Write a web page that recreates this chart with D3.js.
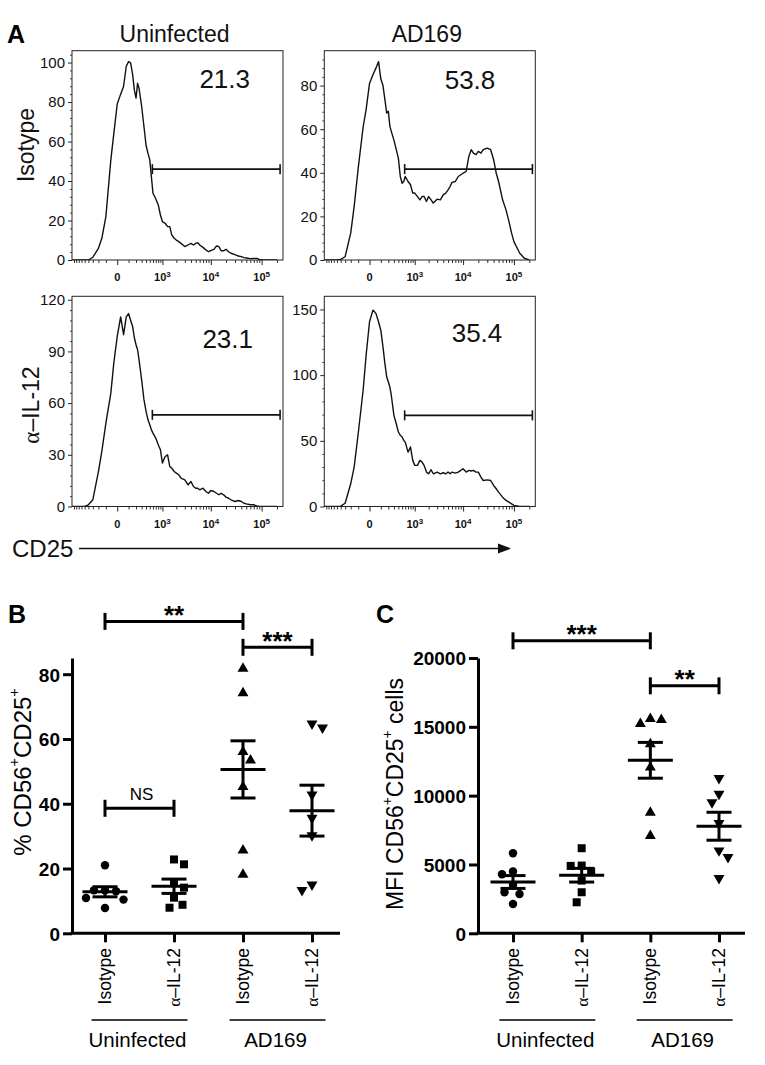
<!DOCTYPE html>
<html><head><meta charset="utf-8">
<script src="https://cdn.jsdelivr.net/npm/d3@7"></script>
<style>body{margin:0;background:#fff}svg{display:block}text{font-family:"Liberation Sans",Arial,Helvetica,sans-serif}</style>
</head><body><svg id="fig" width="765" height="1065"></svg>
<script>
// ================= DATA =================
// Panel A: CD25 fluorescence grid and histogram counts
const cd25Values = [-1000,-700,-500,-400,-300,-200,-150,-100,-50,-25,
  0,25,50,75,100,125,150,175,200,225,
  250,300,350,400,450,500,550,600,700,800,
  900,1000,1150,1300,1450,1600,1800,2000,2250,2500,
  3000,3500,4000,4500,5000,5500,6000,7000,8000,9000,
  10000,11500,13000,14500,16000,18000,20000,22500,25000,30000,
  35000,40000,45000,50000,60000,70000,80000,90000,100000,130000,
  160000,200000];
const countsIsoUninf = [0,0,0,0,1.4,5.9,11,22,50.7,64,
  79,84,88,98,100.5,99.7,94,86,82,89.5,
  87,78,67.6,58,54,50.7,42,33.8,31,28,
  22.8,19.4,18.6,16.9,16.9,12.7,11,10.1,9.3,8.4,
  6.8,7.6,8.4,7.6,8.4,8.8,7.6,6.4,5.1,4.2,
  4.7,5.4,7.1,6.8,4.7,4.7,5.4,4.2,3.4,2.7,
  2.0,1.7,1.2,1.0,0.7,0.8,0.8,0.3,0,0,
  0,0];
const countsIsoAD169 = [0,0,0,0.3,1.5,12.3,24.5,42,61,69,
  81,85,88,91,83,80,73.6,67.4,68.2,61.3,
  59,55,50.6,46.7,38.3,35.2,36,38.3,36,34.5,
  30.7,30.7,29.1,27.6,29.1,29.1,26.8,29.1,27.6,26.1,
  27.9,27.6,29.9,30.7,32.2,33.7,35.6,36,38.3,39.1,
  39.8,40.6,47.5,50.6,49,48.3,49.8,49,50.6,51.3,
  50.6,46,39.8,36,27.6,23,17.6,12.3,8.4,3.1,
  0.8,0];
const countsIl12Uninf = [0,0,0,1,3.9,20.3,32,48.4,65.8,83.2,
  98.7,110,99.7,110,112,108,104.5,97.8,93.9,91,
  85.2,73.6,62,55.2,50.3,47.4,44.5,42.6,39.7,35.8,
  32.9,25.2,29,30,23.2,22.3,20.3,19.4,18.4,16.5,
  15.5,12.6,14.5,11.6,10.6,10.6,9.7,10.6,8.7,7.7,
  9.3,8.7,7.7,6.8,7.7,6.8,5.4,4.8,3.9,2.9,
  3.5,2.9,1.9,1.5,1,1,0.4,0,0,0,
  0,0];
const countsIl12AD169 = [0,0,0,0.3,2.5,17.3,30,55.4,88.5,115,
  140.6,149.5,147,140.6,134,121.5,108.8,98.7,94.8,91,
  84.7,69.4,63,56.7,54.2,52.9,50.3,49,41.4,45.3,
  35.1,31.3,31.3,35.1,33.8,31.3,26.2,24.9,28,24.9,
  26.2,24.9,25.7,24.9,26.2,24.9,26.2,25.4,26.2,27.5,
  28.7,26.2,27.5,27,27.5,26.2,26.2,22.4,19.8,20.3,
  19.8,16,13.5,10.9,7.1,4.6,3.3,2,0.8,0,
  0,0];
const gatePercents = ["21.3","53.8","23.1","35.4"];
const gateBounds = [580, 230000];
const gateLevels = [46, 41.7, 53.2, 69.4];
const countMax = [106, 96, 122, 160];
const countTicks = [[0,20,40,60,80,100],[0,20,40,60,80],[0,30,60,90,120],[0,50,100,150]];
const cd25Domain = [-1000, 262144];
const cd25MajorTicks = [0, 1e3, 1e4, 1e5];
const cd25MajorLabels = [["0",""],["10","3"],["10","4"],["10","5"]];
const cd25MinorTicks = [-900,-800,-700,-600,-500,-400,-300,-200,-100,100,200,300,400,500,600,700,800,900,
  2000,3000,4000,5000,6000,7000,8000,9000,20000,30000,40000,50000,60000,70000,80000,90000,200000];
const colTitles = ["Uninfected","AD169"];
const rowTitles = ["Isotype","α–IL-12"];

// Panels B and C
const categories = ["Isotype","α–IL-12","Isotype","α–IL-12"];
const groups = ["Uninfected","AD169"];
const pctIsoUninf  = [21.0,13.3,10.9,13.0,13.3,10.4,7.8];
const pctIl12Uninf = [21.3,22.8,15.8,14.1,11.0,8.8,7.9];
const pctIsoAD169  = [81.7,74.2,56.0,53.4,45.2,25.6,18.1];
const pctIl12AD169 = [63.5,64.7,42.8,35.6,30.2,15.0,13.3];
const mfiIsoUninf  = [5818,4485,4291,3515,2982,2860,2133];
const mfiIl12Uninf = [6182,4897,4921,4485,3830,2982,2254];
const mfiIsoAD169  = [15588,15224,15515,13745,12048,8776,7079];
const mfiIl12AD169 = [11273,10133,9503,8000,6012,5527,4000];
const pctTicks = [0,20,40,60,80];
const mfiTicks = [0,5000,10000,15000,20000];
const pctSig = [{a:0,b:2,level:96.3,label:"**"},{a:2,b:3,level:88.3,label:"***"},{a:0,b:1,level:38.6,label:"NS"}];
const mfiSig = [{a:0,b:2,level:21250,label:"***"},{a:2,b:3,level:17980,label:"**"}];

// ================= DRAW =================
const svg = d3.select("#fig");
const ink = "#000";

// ---------- Panel A ----------
const histW = 211;
const histLefts = [72, 324.3];
const histRows = [{top:50.7,bottom:260},{top:296.3,bottom:506.5}];
const pctPos = [{dx:-33,dy:37.5},{dx:-40,dy:38.5},{dx:-30,dy:52},{dx:-33,dy:45.5}];
const histSeries = [countsIsoUninf, countsIsoAD169, countsIl12Uninf, countsIl12AD169];

histSeries.forEach((counts,i)=>{
  const col = i%2, row = Math.floor(i/2);
  const left = histLefts[col], top = histRows[row].top, bottom = histRows[row].bottom;
  const x = d3.scaleSymlog().constant(150).domain(cd25Domain).range([left, left+histW]);
  const y = d3.scaleLinear().domain([0,countMax[i]]).range([bottom, top]);
  const g = svg.append("g");
  const cid = "hclip"+i;
  svg.append("clipPath").attr("id",cid).append("rect")
    .attr("x",left).attr("y",top).attr("width",histW).attr("height",bottom-top);
  g.append("path").datum(d3.zip(cd25Values, counts))
    .attr("clip-path",`url(#${cid})`)
    .attr("fill","none").attr("stroke","#111").attr("stroke-width",1.4).attr("stroke-linejoin","round")
    .attr("d", d3.line().x(d=>x(d[0])).y(d=>y(d[1])));
  // y axis
  const step = countTicks[i][1]-countTicks[i][0];
  const minors = d3.range(0, countMax[i], step/5).filter(v=>Math.abs(v/step-Math.round(v/step))>1e-6);
  const ya = g.append("g").attr("transform",`translate(${left},0)`)
    .call(d3.axisLeft(y).tickValues(countTicks[i]).tickSize(4).tickPadding(3));
  ya.select(".domain").remove();
  ya.selectAll("text").attr("font-size",15).attr("fill","#111").style("font-family",'"Liberation Sans",Arial,sans-serif');
  ya.selectAll("line").attr("stroke","#222");
  const ym = g.append("g").attr("transform",`translate(${left},0)`)
    .call(d3.axisLeft(y).tickValues(minors).tickSize(2).tickFormat(""));
  ym.select(".domain").remove(); ym.selectAll("line").attr("stroke","#444");
  // x axis
  const xa = g.append("g").attr("transform",`translate(0,${bottom})`)
    .call(d3.axisBottom(x).tickValues(cd25MajorTicks).tickSize(5).tickFormat(""));
  xa.select(".domain").remove(); xa.selectAll("line").attr("stroke","#222");
  const xm = g.append("g").attr("transform",`translate(0,${bottom})`)
    .call(d3.axisBottom(x).tickValues(cd25MinorTicks).tickSize(3).tickFormat(""));
  xm.select(".domain").remove(); xm.selectAll("line").attr("stroke","#333");
  cd25MajorTicks.forEach((v,k)=>{
    const t = g.append("text").attr("x",x(v)).attr("y",bottom+21).attr("text-anchor","middle")
      .attr("font-size",11).attr("font-weight","bold").attr("fill","#111");
    t.append("tspan").text(cd25MajorLabels[k][0]);
    if(cd25MajorLabels[k][1]) t.append("tspan").attr("dy",-4).attr("font-size",8).text(cd25MajorLabels[k][1]);
  });
  // frame
  g.append("rect").attr("x",left).attr("y",top).attr("width",histW).attr("height",bottom-top)
    .attr("fill","none").attr("stroke","#222").attr("stroke-width",1);
  // gate
  const gy = y(gateLevels[i]), gx1 = x(gateBounds[0]), gx2 = x(gateBounds[1]);
  g.append("line").attr("x1",gx1).attr("x2",gx2).attr("y1",gy).attr("y2",gy).attr("stroke","#111").attr("stroke-width",1.8);
  [gx1,gx2].forEach(xx=>g.append("line").attr("x1",xx).attr("x2",xx).attr("y1",gy-5).attr("y2",gy+5).attr("stroke","#111").attr("stroke-width",1.6));
  g.append("text").attr("x",left+histW+pctPos[i].dx).attr("y",top+pctPos[i].dy).attr("text-anchor","end")
    .attr("font-size",26).attr("fill","#111").text(gatePercents[i]);
});
// column/row titles
colTitles.forEach((t,c)=>svg.append("text").attr("x",histLefts[c]+histW/2-3).attr("y",42).attr("text-anchor","middle")
  .attr("font-size",23).attr("fill","#111").text(t));
const rowCenters = [145, 405];
rowTitles.forEach((t,r)=>{
  const tx = svg.append("text").attr("transform",`translate(${r===0?34:39},${rowCenters[r]}) rotate(-90)`)
    .attr("text-anchor","middle").attr("font-size",23).attr("fill","#111");
  if(t.startsWith("α")){ tx.append("tspan").style("font-family",'"Liberation Serif",serif').text("α"); tx.append("tspan").text(t.slice(1)); }
  else tx.text(t);
});
svg.append("text").attr("x",7).attr("y",43).attr("font-size",25).attr("font-weight","bold").text("A");
// CD25 arrow
svg.append("text").attr("x",12).attr("y",557).attr("font-size",24).attr("fill","#111").text("CD25");
svg.append("line").attr("x1",79).attr("x2",500).attr("y1",548.5).attr("y2",548.5).attr("stroke","#111").attr("stroke-width",1.6);
svg.append("path").attr("d",d3.line()([[498,543.5],[511,548.5],[498,553.5]])+"Z").attr("fill","#111");

// ---------- Panels B & C ----------
function swarm(vals, yScale, D){
  const order = vals.map((v,i)=>i).sort((a,b)=>vals[b]-vals[a]);
  const placed = [], xs = new Array(vals.length);
  order.forEach((i,k)=>{
    const py = yScale(vals[i]); let best = null;
    for(let s=0; s<=40 && best===null; s+=0.5){
      const cands = s===0 ? [0] : (k%2 ? [s,-s] : [-s,s]);
      for(const c of cands){ if(placed.every(p=>Math.hypot(p.x-c,p.y-py)>=D)){best=c;break;} }
    }
    xs[i]=best; placed.push({x:best,y:py});
  });
  return xs;
}
const symbolTypes = [
  {type:d3.symbolCircle,size:56,rot:0},
  {type:d3.symbolSquare,size:64,rot:0},
  {type:d3.symbolTriangle,size:52,rot:0},
  {type:d3.symbolTriangle,size:52,rot:180}];

function scatterPanel(cfg){
  const g = svg.append("g");
  const x = d3.scalePoint().domain(d3.range(4)).range(cfg.catRange);
  const y = d3.scaleLinear().domain(cfg.yDomain).range([933.3, 658]);
  // axes
  const ya = g.append("g").attr("transform",`translate(${cfg.axisX},0)`)
    .call(d3.axisLeft(y).tickValues(cfg.ticks).tickFormat(d3.format("d")).tickSize(9).tickSizeOuter(0).tickPadding(3));
  ya.select(".domain").attr("stroke",ink).attr("stroke-width",3);
  ya.selectAll(".tick line").attr("stroke",ink).attr("stroke-width",3);
  ya.selectAll("text").attr("font-size",19).attr("font-weight","bold").attr("fill",ink)
    .style("font-family",'"Liberation Sans",Arial,sans-serif').attr("dy","0.36em");
  g.append("line").attr("x1",cfg.axisX-1.5).attr("x2",cfg.axisEnd).attr("y1",y(0)).attr("y2",y(0)).attr("stroke",ink).attr("stroke-width",3);
  const xa = g.append("g").attr("transform",`translate(0,${y(0)})`)
    .call(d3.axisBottom(x).tickSize(9).tickFormat(""));
  xa.select(".domain").remove(); xa.selectAll("line").attr("stroke",ink).attr("stroke-width",3);
  categories.forEach((c,k)=>{
    const t = g.append("text").attr("transform",`translate(${x(k)},948) rotate(-90)`)
      .attr("text-anchor","end").attr("dominant-baseline","central").attr("font-size",17.5).attr("fill",ink);
    if(c.startsWith("α")){ t.append("tspan").style("font-family",'"Liberation Serif",serif').text("α"); t.append("tspan").text(c.slice(1)); }
    else t.text(c);
  });
  groups.forEach((gname,k)=>{
    const cx = (x(2*k)+x(2*k+1))/2;
    g.append("line").attr("x1",cx-48).attr("x2",cx+48).attr("y1",1020).attr("y2",1020).attr("stroke",ink).attr("stroke-width",1.5);
    g.append("text").attr("x",cx-2).attr("y",1047).attr("text-anchor","middle").attr("font-size",20.5).attr("fill",ink).text(gname);
  });
  // points
  cfg.series.forEach((vals,k)=>{
    const xs = swarm(vals, y, 11);
    const st = symbolTypes[k];
    const sym = d3.symbol().type(st.type).size(st.size);
    g.append("g").selectAll("path").data(vals).join("path")
      .attr("transform",(d,j)=>`translate(${x(k)+xs[j]},${y(d)}) rotate(${st.rot})`)
      .attr("d",sym()).attr("fill",ink);
    const m = d3.mean(vals), se = d3.deviation(vals)/Math.sqrt(vals.length);
    const cx = x(k);
    g.append("line").attr("x1",cx-22.5).attr("x2",cx+22.5).attr("y1",y(m)).attr("y2",y(m)).attr("stroke",ink).attr("stroke-width",3);
    g.append("line").attr("x1",cx).attr("x2",cx).attr("y1",y(m+se)).attr("y2",y(m-se)).attr("stroke",ink).attr("stroke-width",3);
    [m+se,m-se].forEach(v=>g.append("line").attr("x1",cx-12.5).attr("x2",cx+12.5).attr("y1",y(v)).attr("y2",y(v)).attr("stroke",ink).attr("stroke-width",3));
  });
  // significance
  cfg.sig.forEach(s=>{
    const yy = y(s.level), x1 = x(s.a), x2 = x(s.b);
    g.append("line").attr("x1",x1).attr("x2",x2).attr("y1",yy).attr("y2",yy).attr("stroke",ink).attr("stroke-width",3);
    [x1,x2].forEach(xx=>g.append("line").attr("x1",xx).attr("x2",xx).attr("y1",yy-8.5).attr("y2",yy+8.5).attr("stroke",ink).attr("stroke-width",3));
    if(s.label==="NS") g.append("text").attr("x",(x1+x2)/2+2).attr("y",yy-8).attr("text-anchor","middle").attr("font-size",17).attr("fill",ink).text(s.label);
    else g.append("text").attr("x",(x1+x2)/2).attr("y",yy+2.5).attr("text-anchor","middle").attr("font-size",26).attr("font-weight","bold").attr("fill",ink).text(s.label);
  });
  // y title
  const yt = g.append("text").attr("transform",`translate(${cfg.titleX},${cfg.titleY}) rotate(-90)`)
    .attr("text-anchor","middle").attr("dominant-baseline","central").attr("font-size",cfg.titleSize).attr("fill",ink);
  cfg.title.forEach(p=>{
    if(p.sup) yt.append("tspan").attr("dy",-8).attr("font-size",cfg.titleSize*0.6).text(p.t);
    else yt.append("tspan").attr("dy",p.after?8:0).text(p.t);
  });
  g.append("text").attr("x",cfg.letterX).attr("y",623).attr("font-size",25).attr("font-weight","bold").attr("fill",ink).text(cfg.letter);
}

scatterPanel({
  letter:"B", letterX:8,
  catRange:[105,312], axisX:72, axisEnd:340,
  yDomain:[0,85], ticks:pctTicks,
  series:[pctIsoUninf,pctIl12Uninf,pctIsoAD169,pctIl12AD169],
  sig:pctSig, titleX:22, titleY:772, titleSize:24,
  title:[{t:"% CD56"},{t:"+",sup:true},{t:"CD25",after:true},{t:"+",sup:true}]
});
scatterPanel({
  letter:"C", letterX:376,
  catRange:[513,719], axisX:478, axisEnd:745,
  yDomain:[0,20000], ticks:mfiTicks,
  series:[mfiIsoUninf,mfiIl12Uninf,mfiIsoAD169,mfiIl12AD169],
  sig:mfiSig, titleX:395, titleY:794, titleSize:23,
  title:[{t:"MFI CD56"},{t:"+",sup:true},{t:"CD25",after:true},{t:"+",sup:true},{t:" cells",after:true}]
});
</script></body></html>
